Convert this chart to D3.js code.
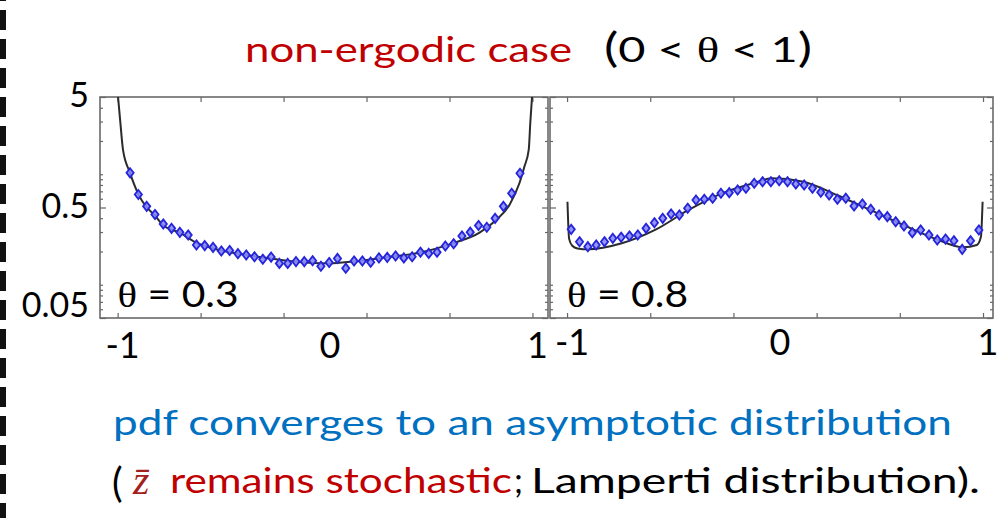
<!DOCTYPE html>
<html>
<head>
<meta charset="utf-8">
<script src="https://cdn.jsdelivr.net/npm/d3@7"></script>
<style>
  html, body { margin: 0; padding: 0; background: #fff; }
  svg { display: block; }
  .sans { font-family: Lato, "Open Sans", sans-serif; }
  .serif { font-family: "Liberation Serif", "DejaVu Serif", serif; }
</style>
</head>
<body>
<script>
// ---- data ---------------------------------------------------------------
const xTicks = [-1, -0.6, -0.2, 0.2, 0.6, 1];
const xLabels = [-1, 0, 1];
const yLabels = [5, 0.5, 0.05];

// theta = 0.3 : histogram of the time average (bins) and limiting density
const simX03 = [-0.94, -0.90, -0.86, -0.82, -0.78, -0.74, -0.70, -0.66, -0.62, -0.58, -0.54, -0.50,
                -0.46, -0.42, -0.38, -0.34, -0.30, -0.26, -0.22, -0.18, -0.14, -0.10, -0.06, -0.02,
                 0.02,  0.06,  0.10,  0.14,  0.18,  0.22,  0.26,  0.30,  0.34,  0.38,  0.42,  0.46,
                 0.50,  0.54,  0.58,  0.62,  0.66,  0.70,  0.74,  0.78,  0.82,  0.86,  0.90,  0.94];
const simY03 = [1.03, 0.655, 0.512, 0.432, 0.355, 0.324, 0.298, 0.282, 0.229, 0.226, 0.218, 0.202,
                0.204, 0.191, 0.186, 0.179, 0.170, 0.178, 0.156, 0.156, 0.162, 0.162, 0.165, 0.147,
                0.159, 0.173, 0.141, 0.164, 0.164, 0.160, 0.175, 0.177, 0.182, 0.175, 0.179, 0.197,
                0.192, 0.197, 0.224, 0.235, 0.276, 0.299, 0.344, 0.331, 0.399, 0.512, 0.672, 1.02];
const fitX03 = [-0.998, -0.988, -0.974, -0.942, -0.902, -0.862, -0.822, -0.782, -0.701, -0.621, -0.508,
                -0.380, -0.235, -0.075, 0.022, 0.134, 0.295, 0.455, 0.616, 0.745, 0.825, 0.889, 0.937,
                 0.961, 0.982, 0.990, 0.998];
const fitY03 = [5.0, 3.1, 1.66, 1.05, 0.672, 0.508, 0.428, 0.347, 0.296, 0.240, 0.206,
                0.186, 0.170, 0.158, 0.156, 0.162, 0.177, 0.195, 0.237, 0.296, 0.385, 0.527, 0.828,
                1.17, 1.66, 3.0, 5.0];

// theta = 0.8
const simX08 = [-0.98, -0.94, -0.90, -0.86, -0.82, -0.78, -0.74, -0.70, -0.66, -0.62, -0.58, -0.54, -0.50,
                -0.46, -0.42, -0.38, -0.34, -0.30, -0.26, -0.22, -0.18, -0.14, -0.10, -0.06, -0.02,
                 0.02,  0.06,  0.10,  0.14,  0.18,  0.22,  0.26,  0.30,  0.34,  0.38,  0.42,  0.46,
                 0.50,  0.54,  0.58,  0.62,  0.66,  0.70,  0.74,  0.78,  0.82,  0.86,  0.90,  0.94, 0.98];
const simY08 = [0.317, 0.245, 0.221, 0.229, 0.245, 0.263, 0.269, 0.276, 0.282, 0.324, 0.364, 0.399, 0.437,
                0.428, 0.492, 0.584, 0.593, 0.606, 0.672, 0.681, 0.720, 0.746, 0.828, 0.856, 0.856,
                0.874, 0.856, 0.816, 0.799, 0.746, 0.687, 0.649, 0.593, 0.606, 0.516, 0.538, 0.482,
                0.428, 0.413, 0.372, 0.340, 0.296, 0.313, 0.282, 0.254, 0.259, 0.250, 0.209, 0.250, 0.313];
const fitX08 = [-0.998, -0.99, -0.975, -0.95, -0.898, -0.737, -0.577, -0.416, -0.256, -0.096, -0.016,
                 0.136, 0.297, 0.457, 0.617, 0.777, 0.905, 0.97, 0.99, 0.998];
const fitY08 = [0.564, 0.26, 0.225, 0.213, 0.209, 0.237, 0.313, 0.475, 0.672, 0.838, 0.918,
                0.856, 0.649, 0.475, 0.347, 0.258, 0.218, 0.229, 0.272, 0.564];

// ---- drawing ------------------------------------------------------------
const W = 997, H = 518;
const svg = d3.select("body").append("svg").attr("width", W).attr("height", H);

// dashed rule down the left margin
svg.append("line")
  .attr("x1", 3).attr("x2", 3).attr("y1", 0).attr("y2", H)
  .attr("stroke", "#111").attr("stroke-width", 6)
  .attr("stroke-dasharray", "20,9").attr("stroke-dashoffset", -10);

const y = d3.scaleLog().domain([0.05, 5]).range([318, 97]);
const minorY = y.ticks().filter(v => yLabels.indexOf(+v.toPrecision(3)) < 0);

// small diamond marker
const diamond = { draw(ctx) { ctx.moveTo(0, -4.6); ctx.lineTo(3.6, 0); ctx.lineTo(0, 4.6); ctx.lineTo(-3.6, 0); ctx.closePath(); } };

const panels = [
  { id: "p03", left: 100, right: 548, domain: [-1.085, 1.075], sim: [simX03, simY03], fit: [fitX03, fitY03],
    theta: "0.3", labelBase: 358 },
  { id: "p08", left: 550, right: 993, domain: [-1.082, 1.048], sim: [simX08, simY08], fit: [fitX08, fitY08],
    theta: "0.8", labelBase: 355 }
];

panels.forEach(p => {
  const x = d3.scaleLinear().domain(p.domain).range([p.left, p.right]);
  const g = svg.append("g");

  g.append("clipPath").attr("id", "clip-" + p.id)
    .append("rect").attr("x", p.left).attr("y", 97).attr("width", p.right - p.left).attr("height", 221);

  // inward ticks on all four sides
  const styleAxis = sel => {
    sel.select(".domain").remove();
    sel.selectAll("line").attr("stroke", "#666").attr("stroke-width", 1.2);
  };
  g.append("g").attr("transform", "translate(0,318)")
    .call(d3.axisBottom(x).tickValues(xTicks).tickSize(-5).tickFormat("")).call(styleAxis);
  g.append("g").attr("transform", "translate(0,97)")
    .call(d3.axisTop(x).tickValues(xTicks).tickSize(-5).tickFormat("")).call(styleAxis);
  g.append("g").attr("transform", `translate(${p.left},0)`)
    .call(d3.axisLeft(y).tickValues(minorY).tickSize(-3).tickFormat("")).call(styleAxis);
  g.append("g").attr("transform", `translate(${p.left},0)`)
    .call(d3.axisLeft(y).tickValues(yLabels).tickSize(-6).tickFormat("")).call(styleAxis);
  g.append("g").attr("transform", `translate(${p.right},0)`)
    .call(d3.axisRight(y).tickValues(minorY).tickSize(-3).tickFormat("")).call(styleAxis);
  g.append("g").attr("transform", `translate(${p.right},0)`)
    .call(d3.axisRight(y).tickValues(yLabels).tickSize(-6).tickFormat("")).call(styleAxis);

  // frame
  g.append("rect").attr("x", p.left).attr("y", 97).attr("width", p.right - p.left).attr("height", 221)
    .attr("fill", "none").attr("stroke", "#6a6a6a").attr("stroke-width", 1.6);

  // limiting density
  const fit = p.fit[0].map((v, i) => [v, p.fit[1][i]]);
  g.append("path").datum(fit)
    .attr("clip-path", `url(#clip-${p.id})`)
    .attr("d", d3.line().x(d => x(d[0])).y(d => y(d[1])).curve(d3.curveMonotoneX))
    .attr("fill", "none").attr("stroke", "#2b2b2b").attr("stroke-width", 2);

  // simulated histogram
  const sim = p.sim[0].map((v, i) => [v, p.sim[1][i]]);
  g.selectAll("path.pt").data(sim).join("path")
    .attr("class", "pt")
    .attr("transform", d => `translate(${x(d[0])},${y(d[1])})`)
    .attr("d", d3.symbol(diamond))
    .attr("fill", "#8a8af6").attr("fill-opacity", 0.9)
    .attr("stroke", "#2424dc").attr("stroke-width", 1.8);

  // x tick labels
  g.selectAll("text.xl").data(xLabels).join("text")
    .attr("class", "xl sans")
    .attr("x", d => x(d) + 5).attr("y", p.labelBase)
    .attr("text-anchor", "middle").attr("font-size", 36).attr("fill", "#000")
    .text(d => String(d));

  // theta label
  const t = g.append("text").attr("x", x(-1)).attr("y", 307).attr("font-size", 36)
    .attr("textLength", 121).attr("lengthAdjust", "spacingAndGlyphs");
  t.append("tspan").attr("class", "serif").text("θ");
  t.append("tspan").attr("class", "sans").text(" = " + p.theta);
});

// y tick labels (left panel only)
svg.selectAll("text.yl").data(yLabels).join("text")
  .attr("class", "yl sans")
  .attr("x", 89).attr("y", d => Math.min(y(d) + 10, 317))
  .attr("text-anchor", "end").attr("font-size", 34).attr("fill", "#000")
  .text(d => String(d));

// heading
svg.append("text").attr("class", "sans").attr("x", 245).attr("y", 62)
  .attr("font-size", 35).attr("fill", "#c00000")
  .attr("textLength", 327).attr("lengthAdjust", "spacingAndGlyphs")
  .text("non-ergodic case");
const h2 = svg.append("text").attr("x", 604).attr("y", 62).attr("font-size", 35).attr("fill", "#000")
  .attr("textLength", 208).attr("lengthAdjust", "spacingAndGlyphs");
h2.append("tspan").attr("class", "sans").attr("font-size", 40).text("(");
h2.append("tspan").attr("class", "sans").text("0 < ");
h2.append("tspan").attr("class", "serif").text("θ");
h2.append("tspan").attr("class", "sans").text(" < 1");
h2.append("tspan").attr("class", "sans").attr("font-size", 40).text(")");

// caption
svg.append("text").attr("class", "sans").attr("x", 113).attr("y", 435)
  .attr("font-size", 34).attr("fill", "#0070c0")
  .attr("textLength", 839).attr("lengthAdjust", "spacingAndGlyphs")
  .text("pdf converges to an asymptotic distribution");
svg.append("text").attr("class", "sans").attr("x", 112).attr("y", 497)
  .attr("font-size", 40).attr("fill", "#000").text("(");
svg.append("text").attr("class", "serif").attr("x", 133).attr("y", 494)
  .attr("font-size", 42).attr("font-style", "italic").attr("fill", "#a32020").text("z\u0304");
svg.append("text").attr("class", "sans").attr("x", 170).attr("y", 493)
  .attr("font-size", 34).attr("fill", "#c00000")
  .attr("textLength", 342).attr("lengthAdjust", "spacingAndGlyphs")
  .text("remains stochastic");
svg.append("text").attr("class", "sans").attr("x", 514).attr("y", 493)
  .attr("font-size", 34).attr("fill", "#000").text(";");
svg.append("text").attr("class", "sans").attr("x", 531).attr("y", 493)
  .attr("font-size", 34).attr("fill", "#000")
  .attr("textLength", 449).attr("lengthAdjust", "spacingAndGlyphs")
  .text("Lamperti distribution).");
</script>
</body>
</html>
